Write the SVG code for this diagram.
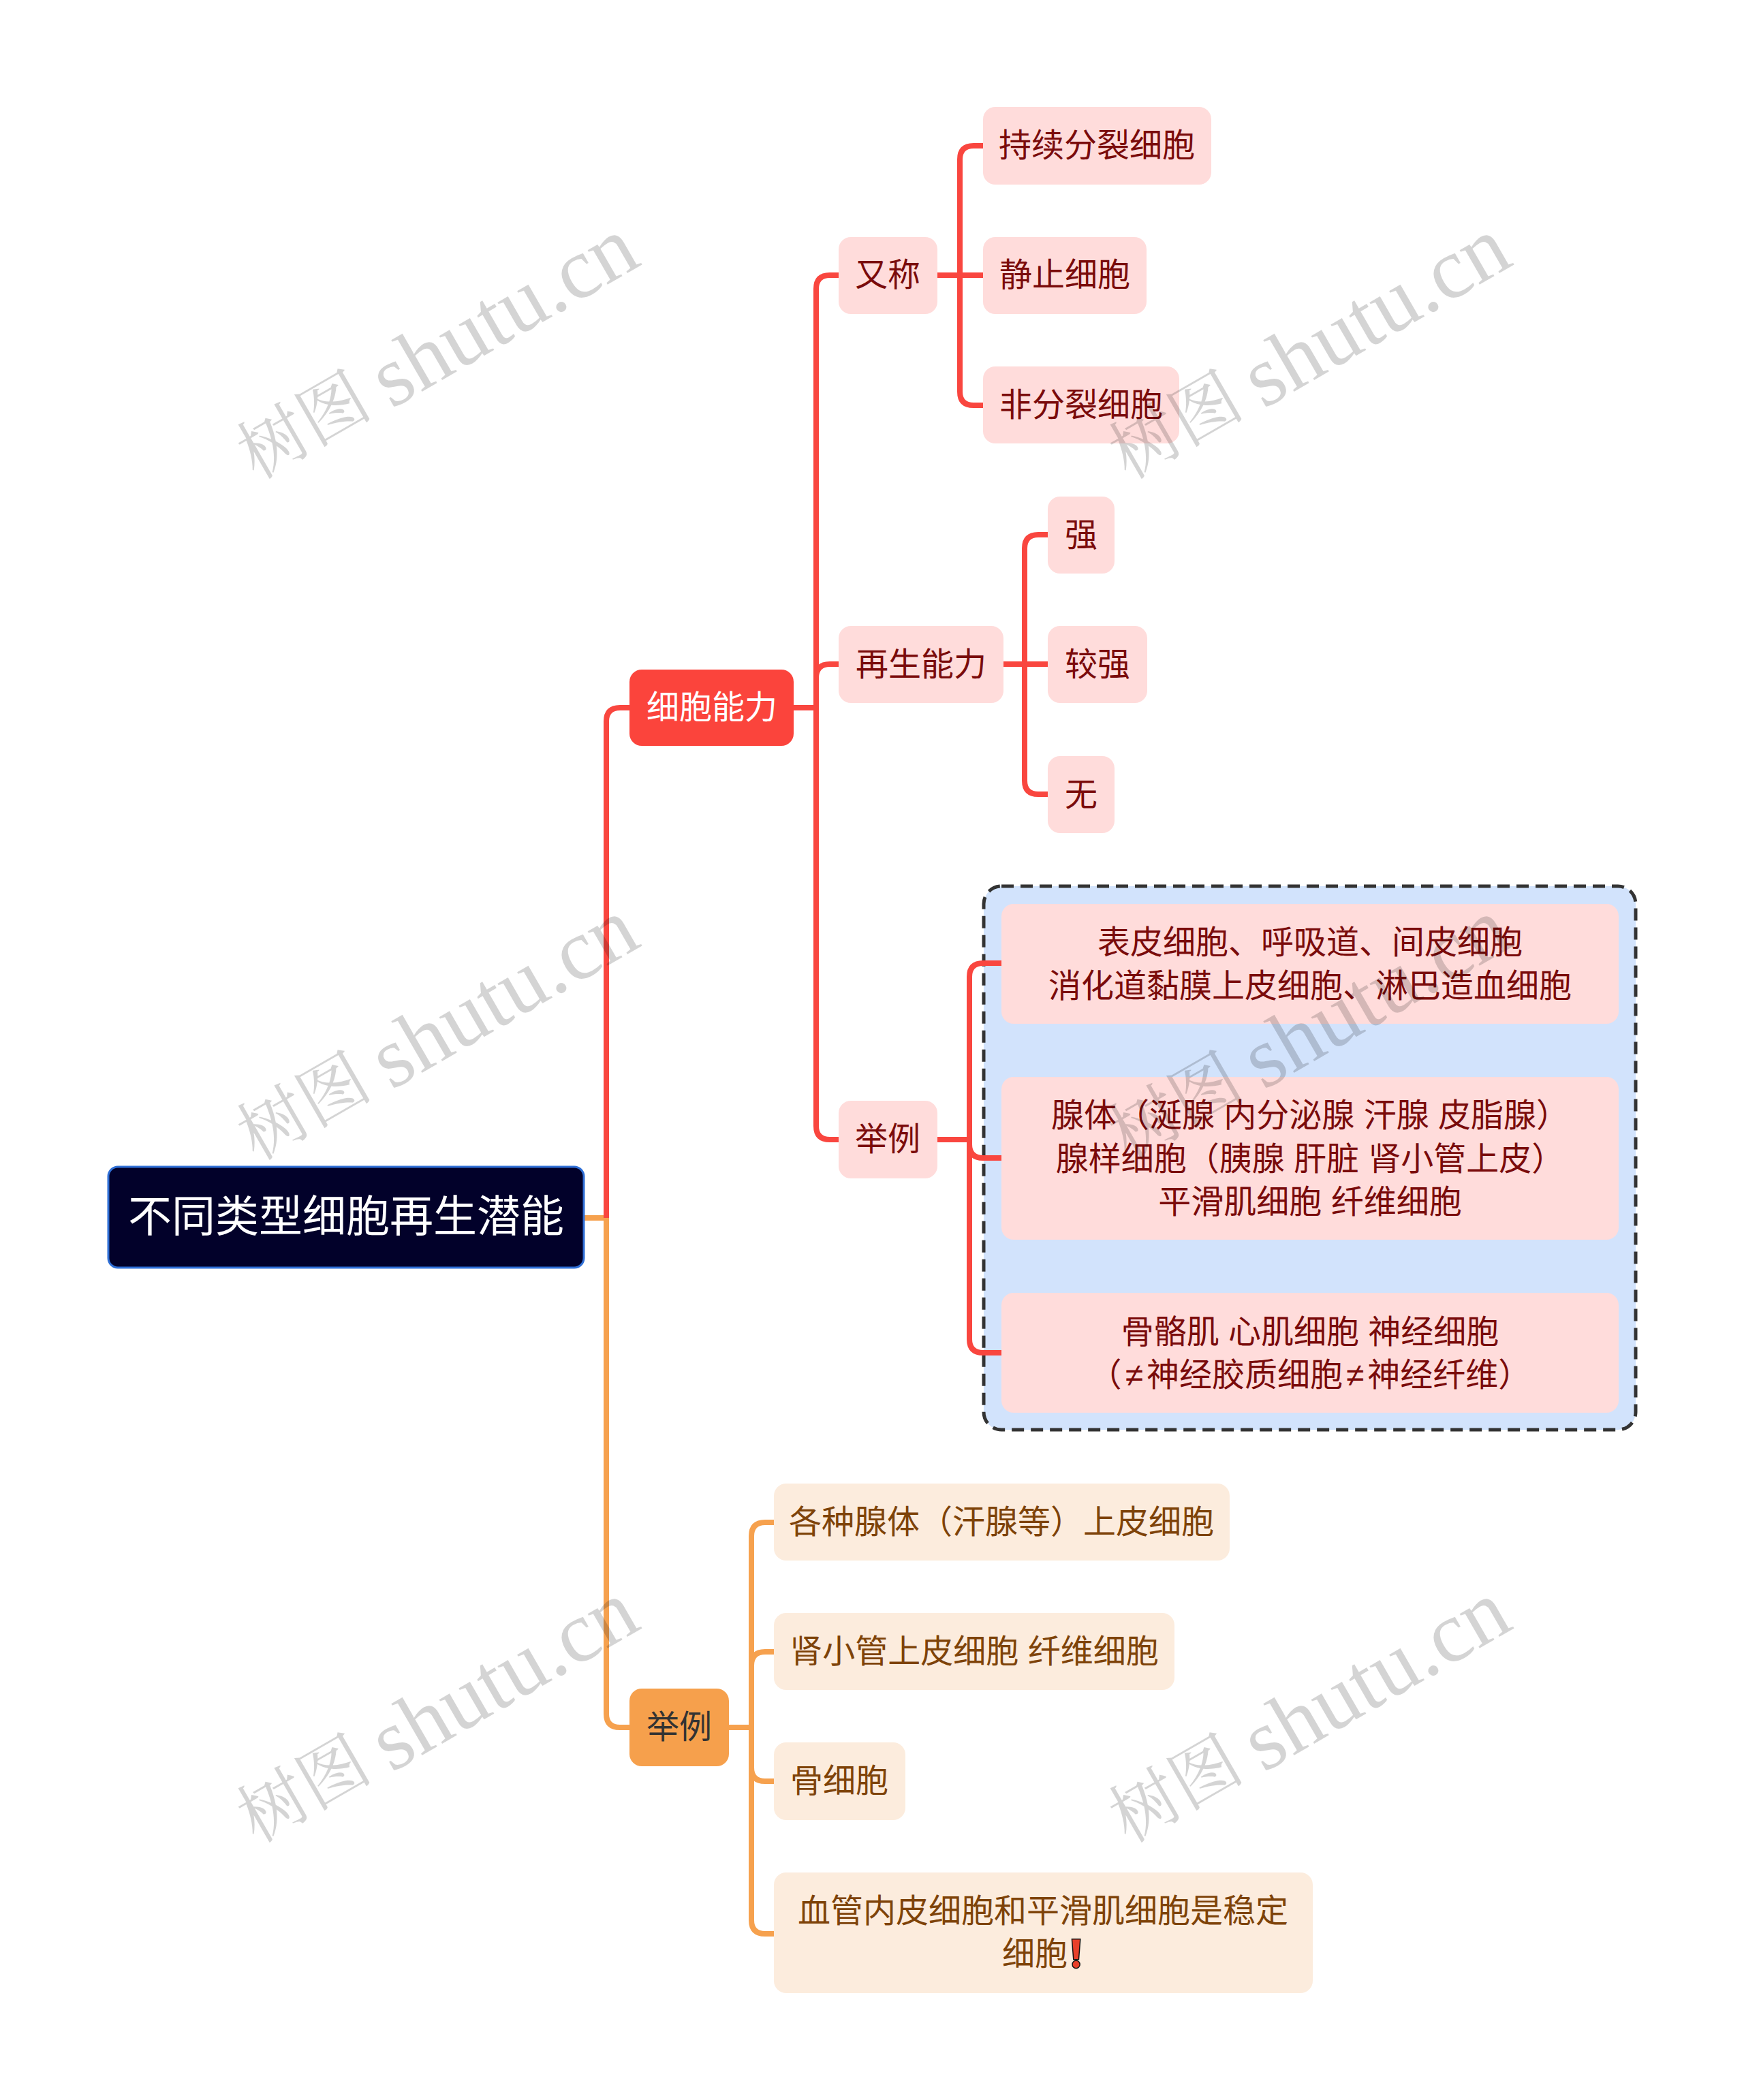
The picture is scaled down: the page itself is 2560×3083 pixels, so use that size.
<svg xmlns="http://www.w3.org/2000/svg" width="2560" height="3083" viewBox="0 0 2560 3083">
<style>
text{font-family:"Liberation Sans","Noto Sans CJK SC",sans-serif;font-size:48px;dominant-baseline:central;text-anchor:middle}
.l{fill:none;stroke-width:8;stroke-linejoin:round}
.r{stroke:#f9463f}.o{stroke:#f6a14e}
.p rect{fill:#ffdcdb}.p text{fill:#7a0b0b}
.c rect{fill:#fcecdd}.c text{fill:#7e4309}
.wm text{font-family:"Liberation Serif","Noto Serif CJK SC","Noto Sans CJK SC",serif;font-size:127px;fill:#000;fill-opacity:.17;text-anchor:middle}
.wm .z{font-size:100px}
</style>
<rect width="2560" height="3083" fill="#fff"/>
<g id="group-box"><rect x="1444" y="1301" width="957" height="798" rx="26" fill="#d2e3fc" stroke="#333" stroke-width="5" stroke-dasharray="18 10"/></g>
<g id="connectors">
<path class="l o" d="M857 1788H890V2516Q890 2536 910 2536H924"/>
<path class="l r" d="M890 1788V1059Q890 1039 910 1039H924"/>
<path class="l r" d="M1165 1039H1198"/>
<path class="l r" d="M1231 404H1218Q1198 404 1198 424V1653Q1198 1673 1218 1673H1231"/>
<path class="l r" d="M1198 995Q1198 975 1218 975H1231"/>
<path class="l r" d="M1376 404H1443"/>
<path class="l r" d="M1443 214H1429Q1409 214 1409 234V575Q1409 595 1429 595H1443"/>
<path class="l r" d="M1473 975H1538"/>
<path class="l r" d="M1538 785H1524Q1504 785 1504 805V1146Q1504 1166 1524 1166H1538"/>
<path class="l r" d="M1376 1673H1423"/>
<path class="l r" d="M1470 1414H1443Q1423 1414 1423 1434V1966Q1423 1986 1443 1986H1470"/>
<path class="l r" d="M1423 1680Q1423 1700 1443 1700H1470"/>
<path class="l o" d="M1070 2536H1103"/>
<path class="l o" d="M1136 2235H1123Q1103 2235 1103 2255V2819Q1103 2839 1123 2839H1136"/>
<path class="l o" d="M1103 2445Q1103 2425 1123 2425H1136"/>
<path class="l o" d="M1103 2595Q1103 2615 1123 2615H1136"/>
</g>
<g id="root"><rect x="159" y="1713" width="698" height="148" rx="14" fill="#02012a" stroke="#2f6fd6" stroke-width="3"/><text x="508" y="1786" style="font-size:64px" fill="#fff">不同类型细胞再生潜能</text></g>
<g id="n-ability"><rect x="924" y="983" width="241" height="112" rx="18" fill="#fb443c"/><text x="1045" y="1038" fill="#fff">细胞能力</text></g>
<g id="n-alias" class="p"><rect x="1231" y="348" width="145" height="113" rx="18"/><text x="1303" y="403">又称</text></g>
<g id="n-a1" class="p"><rect x="1443" y="157" width="335" height="114" rx="18"/><text x="1610" y="213">持续分裂细胞</text></g>
<g id="n-a2" class="p"><rect x="1443" y="348" width="240" height="113" rx="18"/><text x="1563" y="403">静止细胞</text></g>
<g id="n-a3" class="p"><rect x="1443" y="538" width="288" height="113" rx="18"/><text x="1587" y="594">非分裂细胞</text></g>
<g id="n-regen" class="p"><rect x="1231" y="919" width="242" height="113" rx="18"/><text x="1352" y="975">再生能力</text></g>
<g id="n-r1" class="p"><rect x="1538" y="729" width="98" height="113" rx="18"/><text x="1587" y="785">强</text></g>
<g id="n-r2" class="p"><rect x="1538" y="919" width="146" height="113" rx="18"/><text x="1611" y="975">较强</text></g>
<g id="n-r3" class="p"><rect x="1538" y="1110" width="98" height="113" rx="18"/><text x="1587" y="1166">无</text></g>
<g id="n-ex" class="p"><rect x="1231" y="1616" width="145" height="114" rx="18"/><text x="1303" y="1672">举例</text></g>
<g id="n-e1" class="p"><rect x="1470" y="1327" width="906" height="176" rx="18"/><text x="1923" y="1383">表皮细胞、呼吸道、间皮细胞</text><text x="1923" y="1447">消化道黏膜上皮细胞、淋巴造血细胞</text></g>
<g id="n-e2" class="p"><rect x="1470" y="1581" width="906" height="239" rx="18"/><text x="1923" y="1637">腺体（涎腺 内分泌腺 汗腺 皮脂腺）</text><text x="1923" y="1701">腺样细胞（胰腺 肝脏 肾小管上皮）</text><text x="1923" y="1764">平滑肌细胞 纤维细胞</text></g>
<g id="n-e3" class="p"><rect x="1470" y="1898" width="906" height="176" rx="18"/><text x="1923" y="1955">骨骼肌 心肌细胞 神经细胞</text><text x="1923" y="2018">（<tspan dx="5">≠</tspan><tspan dx="5">神</tspan>经胶质细胞<tspan dx="5">≠</tspan><tspan dx="5">神</tspan>经纤维）</text></g>
<g id="n-ex2"><rect x="924" y="2479" width="146" height="114" rx="18" fill="#f6a04c"/><text x="997" y="2535" fill="#333">举例</text></g>
<g id="n-o1" class="c"><rect x="1136" y="2178" width="669" height="113" rx="18"/><text x="1470" y="2234">各种腺体（汗腺等）上皮细胞</text></g>
<g id="n-o2" class="c"><rect x="1136" y="2368" width="588" height="113" rx="18"/><text x="1430" y="2424">肾小管上皮细胞 纤维细胞</text></g>
<g id="n-o3" class="c"><rect x="1136" y="2558" width="193" height="114" rx="18"/><text x="1232" y="2614">骨细胞</text></g>
<g id="n-o4" class="c"><rect x="1136" y="2749" width="791" height="177" rx="18"/><text x="1531" y="2805">血管内皮细胞和平滑肌细胞是稳定</text><text x="1519" y="2868">细胞</text><text x="1579" y="2868" style="font-family:'DejaVu Sans',sans-serif;fill:#e8402a;stroke:#111;stroke-width:3;paint-order:stroke;font-size:56px">❗&#xFE0E;</text></g>
<g class="wm" id="watermarks">
<text transform="translate(641 513) rotate(-30)"><tspan class="z">树图</tspan><tspan dx="-8"> shutu.cn</tspan></text>
<text transform="translate(1921 513) rotate(-30)"><tspan class="z">树图</tspan><tspan dx="-8"> shutu.cn</tspan></text>
<text transform="translate(641 1513) rotate(-30)"><tspan class="z">树图</tspan><tspan dx="-8"> shutu.cn</tspan></text>
<text transform="translate(1921 1513) rotate(-30)"><tspan class="z">树图</tspan><tspan dx="-8"> shutu.cn</tspan></text>
<text transform="translate(641 2515) rotate(-30)"><tspan class="z">树图</tspan><tspan dx="-8"> shutu.cn</tspan></text>
<text transform="translate(1921 2515) rotate(-30)"><tspan class="z">树图</tspan><tspan dx="-8"> shutu.cn</tspan></text>
</g>
</svg>
